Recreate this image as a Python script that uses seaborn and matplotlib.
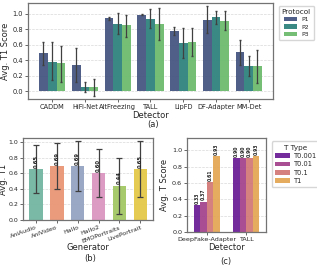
import matplotlib
matplotlib.use("Agg")
import matplotlib.pyplot as plt
import seaborn as sns
import numpy as np
import pandas as pd

# (a) detectors x protocols
detectors = ['CADDM', 'HiFi-Net', 'AltFreezing', 'TALL', 'LipFD', 'DF-Adapter', 'MM-Det']
protocols = ['P1', 'P2', 'P3']
p1_mean = [0.49, 0.34, 0.94, 0.99, 0.78, 0.92, 0.51]
p2_mean = [0.38, 0.05, 0.87, 0.93, 0.62, 0.96, 0.33]
p3_mean = [0.36, 0.06, 0.85, 0.87, 0.63, 0.91, 0.32]
p1_lo = [0.34, 0.12, 0.92, 0.98, 0.73, 0.75, 0.34]
p1_hi = [0.63, 0.56, 0.96, 1.00, 0.83, 1.10, 0.66]
p2_lo = [0.14, -0.01, 0.74, 0.81, 0.43, 0.87, 0.20]
p2_hi = [0.63, 0.12, 1.01, 1.06, 0.81, 1.04, 0.46]
p3_lo = [0.12, -0.06, 0.70, 0.66, 0.45, 0.79, 0.11]
p3_hi = [0.59, 0.16, 0.99, 1.08, 0.81, 1.03, 0.53]

# (b) generators
generators = ['AniAudio', 'AniVideo', 'Hallo', 'Hallo2', 'EMOPortraits', 'LivePortrait']
gen_mean = [0.65, 0.69, 0.69, 0.60, 0.44, 0.65]
gen_lo = [0.34, 0.40, 0.37, 0.29, 0.08, 0.29]
gen_hi = [0.96, 0.98, 1.01, 0.91, 0.80, 1.01]

# (c) thresholds
det_c = ['DeepFake-Adapter', 'TALL']
t_types = ['T0.001', 'T0.01', 'T0.1', 'T1']
t_scores = [[0.33, 0.90], [0.37, 0.90], [0.61, 0.90], [0.93, 0.93]]

sns.set_style("ticks")
plt.rcParams['font.family'] = ['DejaVu Sans']

LAB = 6


def style_ax(ax, tick=4.5):
    ax.grid(axis='y', ls='--', lw=0.5, color='0.85')
    ax.set_axisbelow(True)
    for s in ax.spines.values():
        s.set_color('0.45')
        s.set_linewidth(0.9)
    ax.tick_params(labelsize=tick, length=2, width=0.6, pad=1.5, color='0.3')


fig = plt.figure(figsize=(3.17, 2.68), dpi=100)

# ---- (a)
ax_a = fig.add_axes([0.088, 0.631, 0.773, 0.358])
df_a = pd.DataFrame({
    'Detector': detectors * 3,
    'Protocol': [p for p in protocols for _ in detectors],
    'score': p1_mean + p2_mean + p3_mean,
})
sns.barplot(data=df_a, x='Detector', y='score', hue='Protocol', palette='viridis',
            errorbar=None, ax=ax_a, alpha=0.95, linewidth=0)
los = [p1_lo, p2_lo, p3_lo]
his = [p1_hi, p2_hi, p3_hi]
means = [p1_mean, p2_mean, p3_mean]
bar_conts = list(ax_a.containers)
for k, cont in enumerate(bar_conts):
    xs = [b.get_x() + b.get_width() / 2 for b in cont]
    m = np.array(means[k])
    ax_a.errorbar(xs, m, yerr=[m - np.array(los[k]), np.array(his[k]) - m],
                  fmt='none', ecolor='0.25', elinewidth=0.9, capsize=1)
ax_a.set_ylim(-0.1, 1.14)
ax_a.set_yticks([0.0, 0.2, 0.4, 0.6, 0.8, 1.0])
style_ax(ax_a, tick=4.8)
ax_a.set_xlabel('Detector', fontsize=LAB, labelpad=1)
ax_a.set_ylabel('Avg. T1 Score', fontsize=LAB, labelpad=2)
leg = ax_a.legend(title='Protocol', loc='upper left', bbox_to_anchor=(1.01, 1.0),
                  fontsize=4.5, title_fontsize=5.2, handlelength=2.2, borderpad=0.5,
                  labelspacing=0.3, handletextpad=0.6)
fig.text(0.483, 0.525, '(a)', ha='center', fontsize=LAB)

# ---- (b)
ax_b = fig.add_axes([0.073, 0.179, 0.41, 0.306])
df_b = pd.DataFrame({'Generator': generators, 'score': gen_mean})
sns.barplot(data=df_b, x='Generator', y='score', hue='Generator', palette='Set2',
            errorbar=None, ax=ax_b, width=0.65, alpha=0.95, linewidth=0, legend=False)
bar_conts = list(ax_b.containers)
xs = [c[0].get_x() + c[0].get_width() / 2 for c in bar_conts]
m = np.array(gen_mean)
ax_b.errorbar(xs, m, yerr=[m - np.array(gen_lo), np.array(gen_hi) - m],
              fmt='none', ecolor='0.25', elinewidth=0.9, capsize=2.5, capthick=0.9)
for c in bar_conts:
    ax_b.bar_label(c, fmt='%.2f', rotation=90, fontsize=3.8, fontweight='bold', padding=1)
ax_b.set_ylim(0, 1.05)
ax_b.set_yticks([0.0, 0.2, 0.4, 0.6, 0.8, 1.0])
style_ax(ax_b, tick=4.5)
plt.setp(ax_b.get_xticklabels(), rotation=20, ha='right', rotation_mode='anchor')
ax_b.set_xlabel('Generator', fontsize=LAB, labelpad=0)
ax_b.set_ylabel('Avg. T1', fontsize=LAB)
ax_b.yaxis.set_label_coords(-0.115, 0.5)
fig.text(0.283, 0.027, '(b)', ha='center', fontsize=LAB)

# ---- (c)
ax_c = fig.add_axes([0.59, 0.134, 0.249, 0.351])
df_c = pd.DataFrame({
    'Detector': det_c * len(t_types),
    'T Type': [t for t in t_types for _ in det_c],
    'score': [v for row in t_scores for v in row],
})
sns.barplot(data=df_c, x='Detector', y='score', hue='T Type', palette='plasma',
            errorbar=None, ax=ax_c, width=0.65, alpha=0.9, linewidth=0)
for c in list(ax_c.containers):
    ax_c.bar_label(c, fmt='%.2f', rotation=90, fontsize=3.3, fontweight='bold', padding=1)
ax_c.set_ylim(0, 1.15)
ax_c.set_yticks([0.0, 0.2, 0.4, 0.6, 0.8, 1.0])
style_ax(ax_c, tick=4.6)
ax_c.set_xlabel('Detector', fontsize=LAB, labelpad=1)
ax_c.set_ylabel('Avg. T Score', fontsize=LAB, labelpad=2)
ax_c.legend(title='T Type', loc='upper left', bbox_to_anchor=(1.03, 1.0),
            fontsize=4.8, title_fontsize=5.2, handlelength=2.2, borderpad=0.5,
            labelspacing=0.35, handletextpad=0.6)
fig.text(0.713, 0.015, '(c)', ha='center', fontsize=LAB)

fig.savefig('out.png', dpi=100)
